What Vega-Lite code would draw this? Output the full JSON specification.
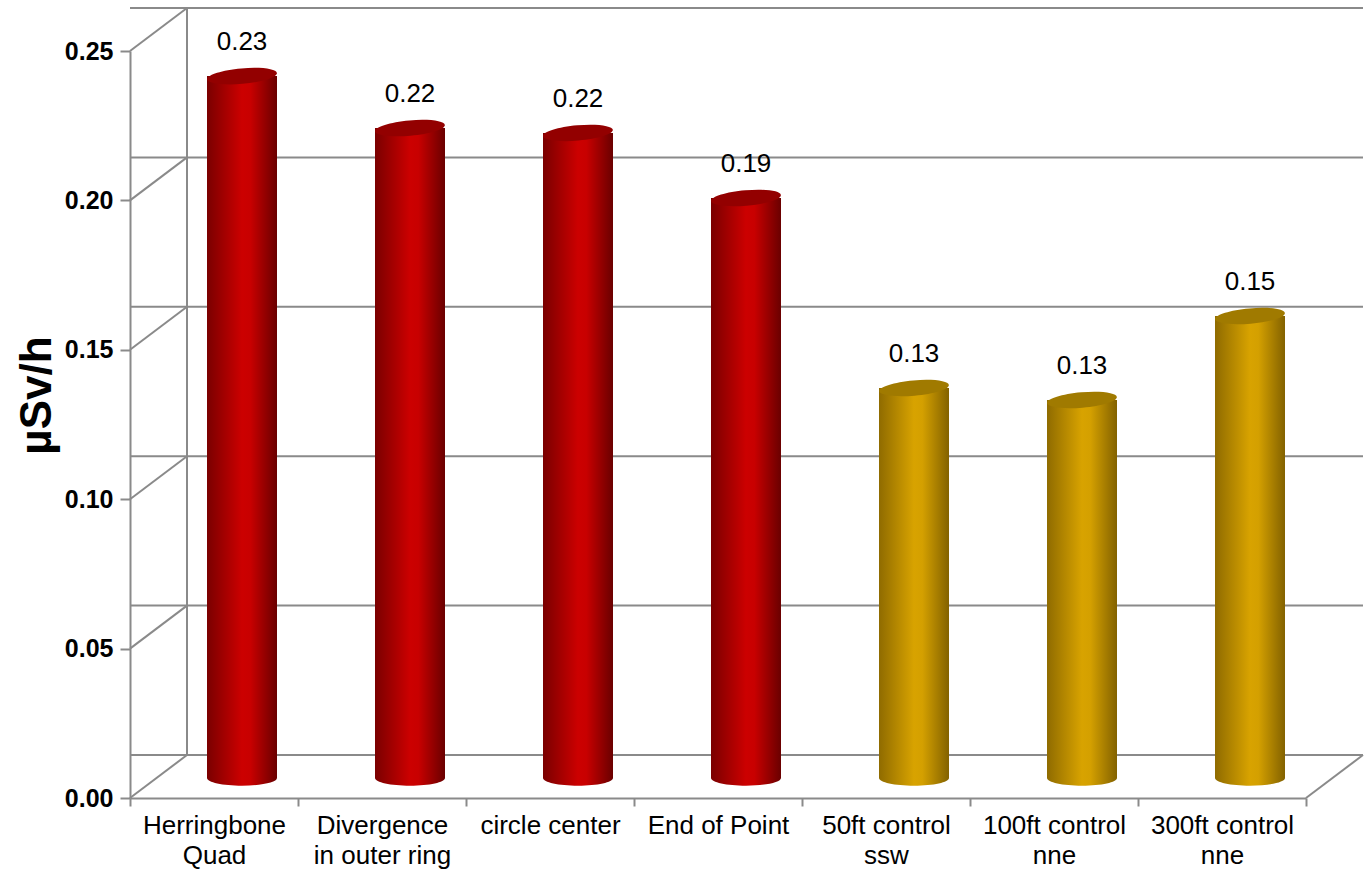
{
  "$schema": "https://vega.github.io/schema/vega-lite/v6.json",
  "width": 1176,
  "height": 747,
  "autosize": "none",
  "padding": {"left": 130, "top": 51, "right": 66, "bottom": 78},
  "background": "white",
  "config": {"view": {"stroke": null}, "font": "Liberation Sans"},
  "datasets": {
    "ticks": [{"v": 0}, {"v": 0.05}, {"v": 0.1}, {"v": 0.15}, {"v": 0.2}, {"v": 0.25}],
    "bars": [
      {"name": "Herringbone Quad", "v": 0.2349, "g": "red"},
      {"name": "Divergence in outer ring", "v": 0.2175, "g": "red"},
      {"name": "circle center", "v": 0.2159, "g": "red"},
      {"name": "End of Point", "v": 0.1941, "g": "red"},
      {"name": "50ft control ssw", "v": 0.1305, "g": "gold"},
      {"name": "100ft control nne", "v": 0.1265, "g": "gold"},
      {"name": "300ft control nne", "v": 0.1546, "g": "gold"}
    ]
  },
  "resolve": {"scale": {"x": "independent"}},
  "layer": [
    {
      "data": {"name": "ticks"},
      "mark": {"type": "rule", "color": "#8a8a8a", "strokeWidth": 2, "xOffset": 57, "x2Offset": 57, "yOffset": -43},
      "encoding": {
        "y": {"field": "v", "type": "quantitative", "scale": {"domain": [0, 0.25], "nice": false}}
      }
    },
    {
      "data": {"name": "ticks"},
      "mark": {"type": "rule", "color": "#8a8a8a", "strokeWidth": 2, "x2Offset": 57, "y2Offset": -43},
      "encoding": {
        "x": {"datum": 0, "type": "quantitative", "scale": {"domain": [0, 1]}, "axis": null},
        "x2": {"datum": 0},
        "y": {"field": "v", "type": "quantitative"},
        "y2": {"field": "v"}
      }
    },
    {
      "data": {"values": [{"v": 0}]},
      "mark": {"type": "rule", "color": "#8a8a8a", "strokeWidth": 2, "x2Offset": 57, "y2Offset": -43},
      "encoding": {
        "x": {"datum": 1, "type": "quantitative", "scale": {"domain": [0, 1]}, "axis": null},
        "x2": {"datum": 1},
        "y": {"field": "v", "type": "quantitative"},
        "y2": {"field": "v"}
      }
    },
    {
      "data": {"values": [{"v": 0, "v2": 0.25}]},
      "mark": {"type": "rule", "color": "#8a8a8a", "strokeWidth": 2, "xOffset": 57, "yOffset": -43, "y2Offset": -43},
      "encoding": {
        "x": {"datum": 0, "type": "quantitative", "scale": {"domain": [0, 1]}, "axis": null},
        "y": {"field": "v", "type": "quantitative"},
        "y2": {"field": "v2"}
      }
    },
    {
      "data": {"name": "bars"},
      "encoding": {
        "x": {
          "field": "name",
          "type": "nominal",
          "sort": null,
          "scale": {
            "domain": ["Herringbone Quad", "Divergence in outer ring", "circle center", "End of Point", "50ft control ssw", "100ft control nne", "300ft control nne"],
            "paddingInner": 0,
            "paddingOuter": 0
          },
          "axis": {
            "title": null,
            "labelAngle": 0,
            "labelFontSize": 26,
            "labelColor": "black",
            "labelBaseline": "top",
            "labelLineHeight": 30,
            "labelPadding": 6,
            "tickSize": 8,
            "tickColor": "#8a8a8a",
            "tickWidth": 2,
            "domainColor": "#8a8a8a",
            "domainWidth": 2,
            "tickBand": "extent",
            "labelExpr": "datum.value == 'Herringbone Quad' ? ['Herringbone','Quad'] : datum.value == 'Divergence in outer ring' ? ['Divergence','in outer ring'] : datum.value == '50ft control ssw' ? ['50ft control','ssw'] : datum.value == '100ft control nne' ? ['100ft control','nne'] : datum.value == '300ft control nne' ? ['300ft control','nne'] : datum.value"
          }
        }
      },
      "layer": [
        {
          "transform": [{"filter": "datum.g == 'red'"}],
          "mark": {
            "type": "point", "filled": true, "size": 4900, "opacity": 1, "strokeWidth": 0,
            "shape": "M-1,0 A1,0.22 0 1,0 1,0 A1,0.22 0 1,0 -1,0 Z",
            "xOffset": 28, "yOffset": -20,
            "fill": {"gradient": "linear", "x1": 0, "y1": 0, "x2": 1, "y2": 0, "stops": [{"offset": 0, "color": "#7a0000"}, {"offset": 0.5, "color": "#cc0000"}, {"offset": 0.62, "color": "#c80000"}, {"offset": 1, "color": "#6a0000"}]}
          },
          "encoding": {"y": {"datum": 0, "type": "quantitative"}}
        },
        {
          "transform": [{"filter": "datum.g == 'gold'"}],
          "mark": {
            "type": "point", "filled": true, "size": 4900, "opacity": 1, "strokeWidth": 0,
            "shape": "M-1,0 A1,0.22 0 1,0 1,0 A1,0.22 0 1,0 -1,0 Z",
            "xOffset": 28, "yOffset": -20,
            "fill": {"gradient": "linear", "x1": 0, "y1": 0, "x2": 1, "y2": 0, "stops": [{"offset": 0, "color": "#8f6b00"}, {"offset": 0.5, "color": "#d8a300"}, {"offset": 0.62, "color": "#d4a000"}, {"offset": 1, "color": "#836200"}]}
          },
          "encoding": {"y": {"datum": 0, "type": "quantitative"}}
        },
        {
          "transform": [{"filter": "datum.g == 'red'"}],
          "mark": {
            "type": "bar", "width": 70, "xOffset": 28, "yOffset": -20, "y2Offset": -20,
            "fill": {"gradient": "linear", "x1": 0, "y1": 0, "x2": 1, "y2": 0, "stops": [{"offset": 0, "color": "#7a0000"}, {"offset": 0.5, "color": "#cc0000"}, {"offset": 0.62, "color": "#c80000"}, {"offset": 1, "color": "#6a0000"}]}
          },
          "encoding": {
            "y": {
              "field": "v",
              "type": "quantitative",
              "scale": {"domain": [0, 0.25], "nice": false},
              "axis": {
                "title": "µSv/h",
                "values": [0, 0.05, 0.1, 0.15, 0.2, 0.25],
                "format": ".2f",
                "labelFontSize": 25,
                "labelFontWeight": "bold",
                "labelColor": "black",
                "labelPadding": 7,
                "tickSize": 10,
                "tickColor": "#8a8a8a",
                "tickWidth": 2,
                "domainColor": "#8a8a8a",
                "domainWidth": 2,
                "grid": false,
                "titleFontSize": 44,
                "titleFontWeight": "bold",
                "titleColor": "black",
                "titleX": -80,
                "titleY": 344,
                "titleAngle": -90,
                "titleAlign": "center",
                "titleBaseline": "alphabetic"
              }
            }
          }
        },
        {
          "transform": [{"filter": "datum.g == 'gold'"}],
          "mark": {
            "type": "bar", "width": 70, "xOffset": 28, "yOffset": -20, "y2Offset": -20,
            "fill": {"gradient": "linear", "x1": 0, "y1": 0, "x2": 1, "y2": 0, "stops": [{"offset": 0, "color": "#8f6b00"}, {"offset": 0.5, "color": "#d8a300"}, {"offset": 0.62, "color": "#d4a000"}, {"offset": 1, "color": "#836200"}]}
          },
          "encoding": {"y": {"field": "v", "type": "quantitative"}}
        },
        {
          "mark": {
            "type": "point", "filled": true, "size": 4900, "opacity": 1, "strokeWidth": 0, "angle": -5,
            "shape": "M-1,0 A1,0.22 0 1,0 1,0 A1,0.22 0 1,0 -1,0 Z",
            "xOffset": 28, "yOffset": -20
          },
          "encoding": {
            "y": {"field": "v", "type": "quantitative"},
            "color": {"field": "g", "type": "nominal", "scale": {"domain": ["red", "gold"], "range": ["#930000", "#a07a00"]}, "legend": null}
          }
        },
        {
          "mark": {"type": "text", "fontSize": 26, "color": "black", "baseline": "alphabetic", "xOffset": 28, "yOffset": -46},
          "encoding": {
            "y": {"field": "v", "type": "quantitative"},
            "text": {"field": "v", "type": "quantitative", "format": ".2f"}
          }
        }
      ]
    }
  ]
}
